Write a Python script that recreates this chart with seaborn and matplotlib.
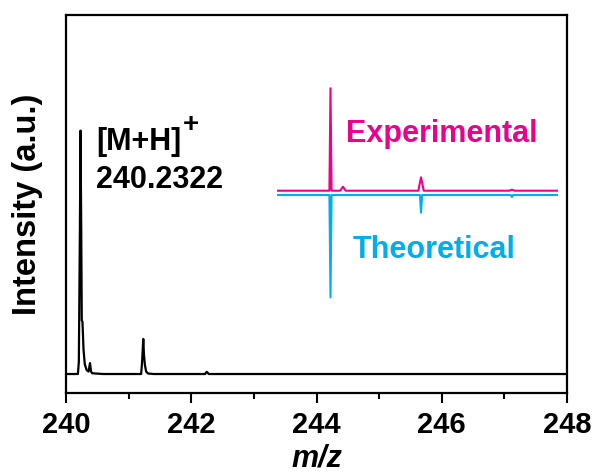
import numpy as np
import pandas as pd
import matplotlib
matplotlib.use('Agg')
import matplotlib.pyplot as plt
import seaborn as sns

# ---- data ----
# main measured trace (m/z, intensity; baseline = 0, base peak = 100)
main_mz = [240.00, 240.19, 240.205, 240.222, 240.232, 240.243, 240.252, 240.263,
           240.28, 240.30, 240.33, 240.36, 240.383, 240.40, 240.42, 240.60,
           241.20, 241.215, 241.234, 241.245, 241.26, 241.28, 241.31, 241.40,
           242.22, 242.247, 242.28, 248.00]
main_int = [0.0, 0.0, 5.0, 60.0, 100.0, 60.0, 22.0, 21.5,
            10.0, 4.0, 1.6, 1.0, 4.5, 1.0, 0.3, 0.0,
            0.0, 5.0, 14.4, 8.0, 3.7, 1.0, 0.2, 0.0,
            0.0, 0.9, 0.0, 0.0]

# inset: isotope pattern, experimental (up) vs theoretical (down)
iso_mz = [240.232, 240.37, 241.234, 242.24]
exp_int = [100.0, 3.9, 13.1, 1.0]
theo_int = [100.0, 0.0, 17.3, 2.0]

x_ticks = [240, 242, 244, 246, 248]
peak_label = ['[M+H]', '+', '240.2322']

MAGENTA = '#EC008C'
CYAN = '#00AEEF'

sns.set_theme(style='ticks')
plt.rcParams['font.family'] = ['Liberation Sans', 'DejaVu Sans']
plt.rcParams['font.weight'] = 'bold'
plt.rcParams['text.color'] = 'black'
plt.rcParams['axes.labelcolor'] = 'black'
plt.rcParams['xtick.color'] = 'black'
plt.rcParams['ytick.color'] = 'black'

fig = plt.figure(figsize=(5.98, 4.73), dpi=100)
ax = fig.add_axes([66 / 598, 80 / 473, 501 / 598, 378 / 473])

df = pd.DataFrame({'mz': main_mz, 'intensity': main_int})
sns.lineplot(data=df, x='mz', y='intensity', ax=ax, color='black',
             lw=1.6, sort=False, estimator=None)

ax.set_xlim(240, 248)
ax.set_ylim(-7.8, 147.5)
ax.set_xticks(x_ticks)
ax.set_xticks([241, 243, 245, 247], minor=True)
ax.set_yticks([])
ax.tick_params(axis='x', which='major', direction='out', length=7.2, width=1.5,
               labelsize=21, pad=6, colors='black')
ax.tick_params(axis='x', which='minor', direction='out', length=4, width=1.5,
               colors='black')
for lab in ax.get_xticklabels():
    lab.set_fontweight('bold')
for sp in ax.spines.values():
    sp.set_visible(True)
    sp.set_linewidth(1.6)
    sp.set_color('black')

ax.set_xlabel('m/z', fontsize=22, fontweight='bold', style='italic', labelpad=3)
ax.set_ylabel('Intensity (a.u.)', fontsize=23.5, fontweight='bold')
ax.yaxis.set_label_coords(-0.046, 0.5)

t1 = ax.text(240.48, 95.3, peak_label[0], fontsize=22, fontweight='bold',
             ha='left', va='center')
ax.annotate(peak_label[1], xy=(1.0, 0.62), xycoords=t1, fontsize=20,
            fontweight='bold', ha='left', va='bottom',
            xytext=(1, 0), textcoords='offset points')
ax.text(240.48, 79.7, peak_label[2], fontsize=22, fontweight='bold',
        ha='left', va='center')

# ---- inset with experimental / theoretical isotope pattern ----
ins = fig.add_axes([277 / 598, 167.5 / 473, 281 / 598, 225.3 / 473])
ins.set_xlim(239.64, 242.75)
ins.set_ylim(-110, 110)
ins.axis('off')

off = 2.1
w = 0.012
exp_x, exp_y, theo_x, theo_y = [239.64], [off], [239.64], [-off]
for m, e, t in zip(iso_mz, exp_int, theo_int):
    hw = w if e > 50 else 2.5 * w
    exp_x += [m - hw, m, m + hw]
    exp_y += [off, off + e, off]
    theo_x += [m - w, m, m + w]
    theo_y += [-off, -off - t, -off]
exp_x.append(242.75)
exp_y.append(off)
theo_x.append(242.75)
theo_y.append(-off)

sns.lineplot(x=exp_x, y=exp_y, ax=ins, color=MAGENTA, lw=1.5, sort=False, estimator=None)
sns.lineplot(x=theo_x, y=theo_y, ax=ins, color=CYAN, lw=1.5, sort=False, estimator=None)

fig.text(346 / 598, 1 - 134 / 473, 'Experimental', color=MAGENTA, fontsize=22,
         fontweight='bold', ha='left', va='center')
fig.text(353 / 598, 1 - 250 / 473, 'Theoretical', color=CYAN, fontsize=22,
         fontweight='bold', ha='left', va='center')

fig.savefig('out.png', dpi=100)
